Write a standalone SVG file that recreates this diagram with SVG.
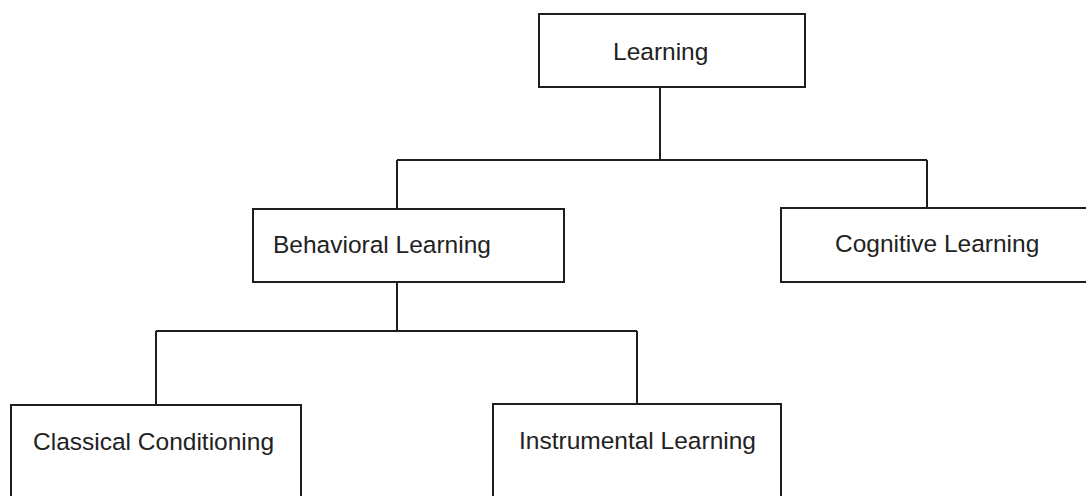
<svg xmlns="http://www.w3.org/2000/svg" width="1086" height="496" viewBox="0 0 1086 496">
  <style>
    .box { fill: #ffffff; stroke: #1e1e1e; stroke-width: 2; }
    .link { fill: none; stroke: #1e1e1e; stroke-width: 2; }
    .label { font-family: "Liberation Sans", Arial, sans-serif; font-size: 24.5px; fill: #222222; }
  </style>
  <rect width="1086" height="496" fill="#ffffff"/>

  <!-- tree connectors -->
  <g id="connectors">
    <path class="link" d="M660,87 V160 M397,160 H927 M397,160 V209 M927,160 V208"/>
    <path class="link" d="M397,282 V331 M156,331 H637 M156,331 V405 M637,331 V404"/>
  </g>

  <g id="learning">
    <rect class="box" x="539" y="14" width="266" height="73"/>
    <text class="label" x="613" y="60">Learning</text>
  </g>

  <g id="behavioral-learning">
    <rect class="box" x="253" y="209" width="311" height="73"/>
    <text class="label" x="273" y="253">Behavioral Learning</text>
  </g>

  <g id="cognitive-learning">
    <rect class="box" x="781" y="208" width="320" height="74"/>
    <text class="label" x="835" y="252">Cognitive Learning</text>
  </g>

  <g id="classical-conditioning">
    <rect class="box" x="11" y="405" width="290" height="120"/>
    <text class="label" x="33" y="450">Classical Conditioning</text>
  </g>

  <g id="instrumental-learning">
    <rect class="box" x="493" y="404" width="288" height="120"/>
    <text class="label" x="519" y="449">Instrumental Learning</text>
  </g>
</svg>
